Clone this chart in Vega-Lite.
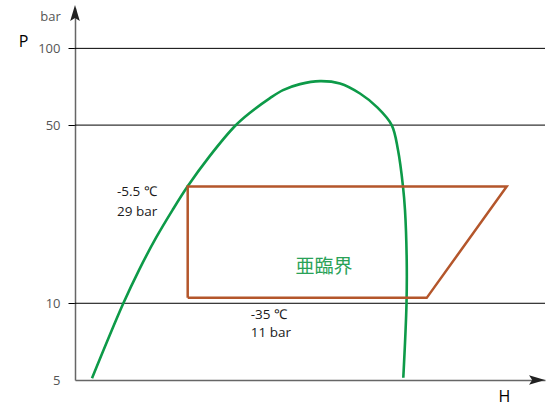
{
  "$schema": "https://vega.github.io/schema/vega-lite/v6.json",
  "width": 470,
  "height": 372,
  "autosize": {"type": "none"},
  "padding": {"left": 75, "top": 8, "right": 3, "bottom": 26},
  "config": {"view": {"stroke": null}, "font": "Open Sans"},
  "layer": [
    {
      "data": {"values": [{"h0": 0, "h1": 470, "p": 10}, {"h0": 0, "h1": 470, "p": 50}, {"h0": 0, "h1": 470, "p": 100}]},
      "mark": {"type": "rule", "color": "#000000", "strokeWidth": 1},
      "encoding": {
        "y": {"field": "p", "type": "quantitative", "title": "P",
          "scale": {"type": "log", "domain": [5, 144], "nice": false},
          "axis": {
            "values": [5, 10, 50, 100],
            "grid": false,
            "tickSize": 7,
            "tickWidth": 1,
            "tickColor": {"condition": {"test": "datum.value == 5", "value": "transparent"}, "value": "#000000"},
            "domainColor": "#666666",
            "domainWidth": 1.5,
            "labelColor": "#555555",
            "labelFontSize": 13,
            "labelFont": "Open Sans",
            "labelPadding": 8,
            "titleAngle": 0,
            "titleX": -52,
            "titleY": 38,
            "titleAlign": "center",
            "titleBaseline": "alphabetic",
            "titleFontSize": 16,
            "titleFontWeight": "normal",
            "titleFont": "Open Sans",
            "titleColor": "#000000"
          }
        },
        "x": {"field": "h0", "type": "quantitative", "title": "H",
          "scale": {"domain": [0, 470], "nice": false, "zero": false},
          "axis": {
            "labels": false,
            "ticks": false,
            "grid": false,
            "domainColor": "#666666",
            "domainWidth": 1.5,
            "titleX": 429,
            "titleY": 21,
            "titleAlign": "center",
            "titleBaseline": "alphabetic",
            "titleFontSize": 16,
            "titleFontWeight": "normal",
            "titleFont": "Open Sans",
            "titleColor": "#000000"
          }
        },
        "x2": {"field": "h1"}
      }
    },
    {
      "data": {"values": [
        {"o": 1, "h": 17, "p": 5.08},
        {"o": 2, "h": 48, "p": 9.93},
        {"o": 3, "h": 64, "p": 13.5},
        {"o": 4, "h": 81.5, "p": 18.2},
        {"o": 5, "h": 97.5, "p": 23.2},
        {"o": 6, "h": 112.5, "p": 28.7},
        {"o": 7, "h": 134.5, "p": 37.7},
        {"o": 8, "h": 160, "p": 49.6},
        {"o": 9, "h": 175, "p": 55.9},
        {"o": 10, "h": 195, "p": 63.8},
        {"o": 11, "h": 208, "p": 68.6},
        {"o": 12, "h": 225, "p": 72.4},
        {"o": 13, "h": 245, "p": 74.4},
        {"o": 14, "h": 265, "p": 72.8},
        {"o": 15, "h": 285, "p": 66.5},
        {"o": 16, "h": 302, "p": 58.8},
        {"o": 17, "h": 316.7, "p": 50.0},
        {"o": 18, "h": 323, "p": 39.9},
        {"o": 19, "h": 328, "p": 28.7},
        {"o": 20, "h": 330, "p": 23.2},
        {"o": 21, "h": 331.7, "p": 14.8},
        {"o": 22, "h": 331.5, "p": 9.93},
        {"o": 23, "h": 328.3, "p": 5.1}
      ]},
      "mark": {"type": "line", "color": "#0d9a48", "strokeWidth": 2.6, "interpolate": "catmull-rom"},
      "encoding": {
        "x": {"field": "h", "type": "quantitative", "title": "H", "scale": {"domain": [0, 470], "nice": false, "zero": false}},
        "y": {"field": "p", "type": "quantitative", "title": "P", "scale": {"type": "log", "domain": [5, 144], "nice": false}},
        "order": {"field": "o"}
      }
    },
    {
      "data": {"values": [
        {"o": 1, "h": 112.7, "p": 10.5},
        {"o": 2, "h": 112.7, "p": 28.7},
        {"o": 3, "h": 431.7, "p": 28.7},
        {"o": 4, "h": 351.7, "p": 10.5},
        {"o": 5, "h": 112.7, "p": 10.5}
      ]},
      "mark": {"type": "line", "color": "#b4562b", "strokeWidth": 2.5, "strokeJoin": "miter"},
      "encoding": {
        "x": {"field": "h", "type": "quantitative", "title": "H", "scale": {"domain": [0, 470], "nice": false, "zero": false}},
        "y": {"field": "p", "type": "quantitative", "title": "P", "scale": {"type": "log", "domain": [5, 144], "nice": false}},
        "order": {"field": "o"}
      }
    },
    {
      "data": {"values": [
        {"h": 0, "p": 137.5, "shape": "M0,-1L0.6,1L0,0.6L-0.6,1Z"},
        {"h": 462, "p": 5, "shape": "M1,0L-1,-0.6L-0.6,0L-1,0.6Z"}
      ]},
      "mark": {"type": "point", "filled": true, "color": "#222222", "opacity": 1, "size": 256, "clip": false},
      "encoding": {
        "x": {"field": "h", "type": "quantitative", "title": "H", "scale": {"domain": [0, 470], "nice": false, "zero": false}},
        "y": {"field": "p", "type": "quantitative", "title": "P", "scale": {"type": "log", "domain": [5, 144], "nice": false}},
        "shape": {"field": "shape", "type": "nominal", "scale": null}
      }
    },
    {
      "data": {"values": [
        {"h": 42, "p": 27.3, "t": "-5.5 ℃"},
        {"h": 42, "p": 22.8, "t": "29 bar"},
        {"h": 175.7, "p": 9.0, "t": "-35 ℃"},
        {"h": 175.7, "p": 7.65, "t": "11 bar"}
      ]},
      "mark": {"type": "text", "align": "left", "baseline": "middle", "fontSize": 13.5, "font": "Open Sans", "color": "#1a1a1a"},
      "encoding": {
        "x": {"field": "h", "type": "quantitative", "title": "H", "scale": {"domain": [0, 470], "nice": false, "zero": false}},
        "y": {"field": "p", "type": "quantitative", "title": "P", "scale": {"type": "log", "domain": [5, 144], "nice": false}},
        "text": {"field": "t"}
      }
    },
    {
      "data": {"values": [{"h": -24.5, "p": 132.6, "t": "bar"}]},
      "mark": {"type": "text", "align": "center", "baseline": "middle", "fontSize": 13, "font": "Open Sans", "color": "#555555"},
      "encoding": {
        "x": {"field": "h", "type": "quantitative", "title": "H", "scale": {"domain": [0, 470], "nice": false, "zero": false}},
        "y": {"field": "p", "type": "quantitative", "title": "P", "scale": {"type": "log", "domain": [5, 144], "nice": false}},
        "text": {"field": "t"}
      }
    },
    {
      "data": {"values": [{"h": 249, "p": 13.87, "t": "亜臨界"}]},
      "mark": {"type": "text", "align": "center", "baseline": "middle", "fontSize": 19, "font": "Noto Sans CJK JP", "color": "#2aa257"},
      "encoding": {
        "x": {"field": "h", "type": "quantitative", "title": "H", "scale": {"domain": [0, 470], "nice": false, "zero": false}},
        "y": {"field": "p", "type": "quantitative", "title": "P", "scale": {"type": "log", "domain": [5, 144], "nice": false}},
        "text": {"field": "t"}
      }
    }
  ]
}
